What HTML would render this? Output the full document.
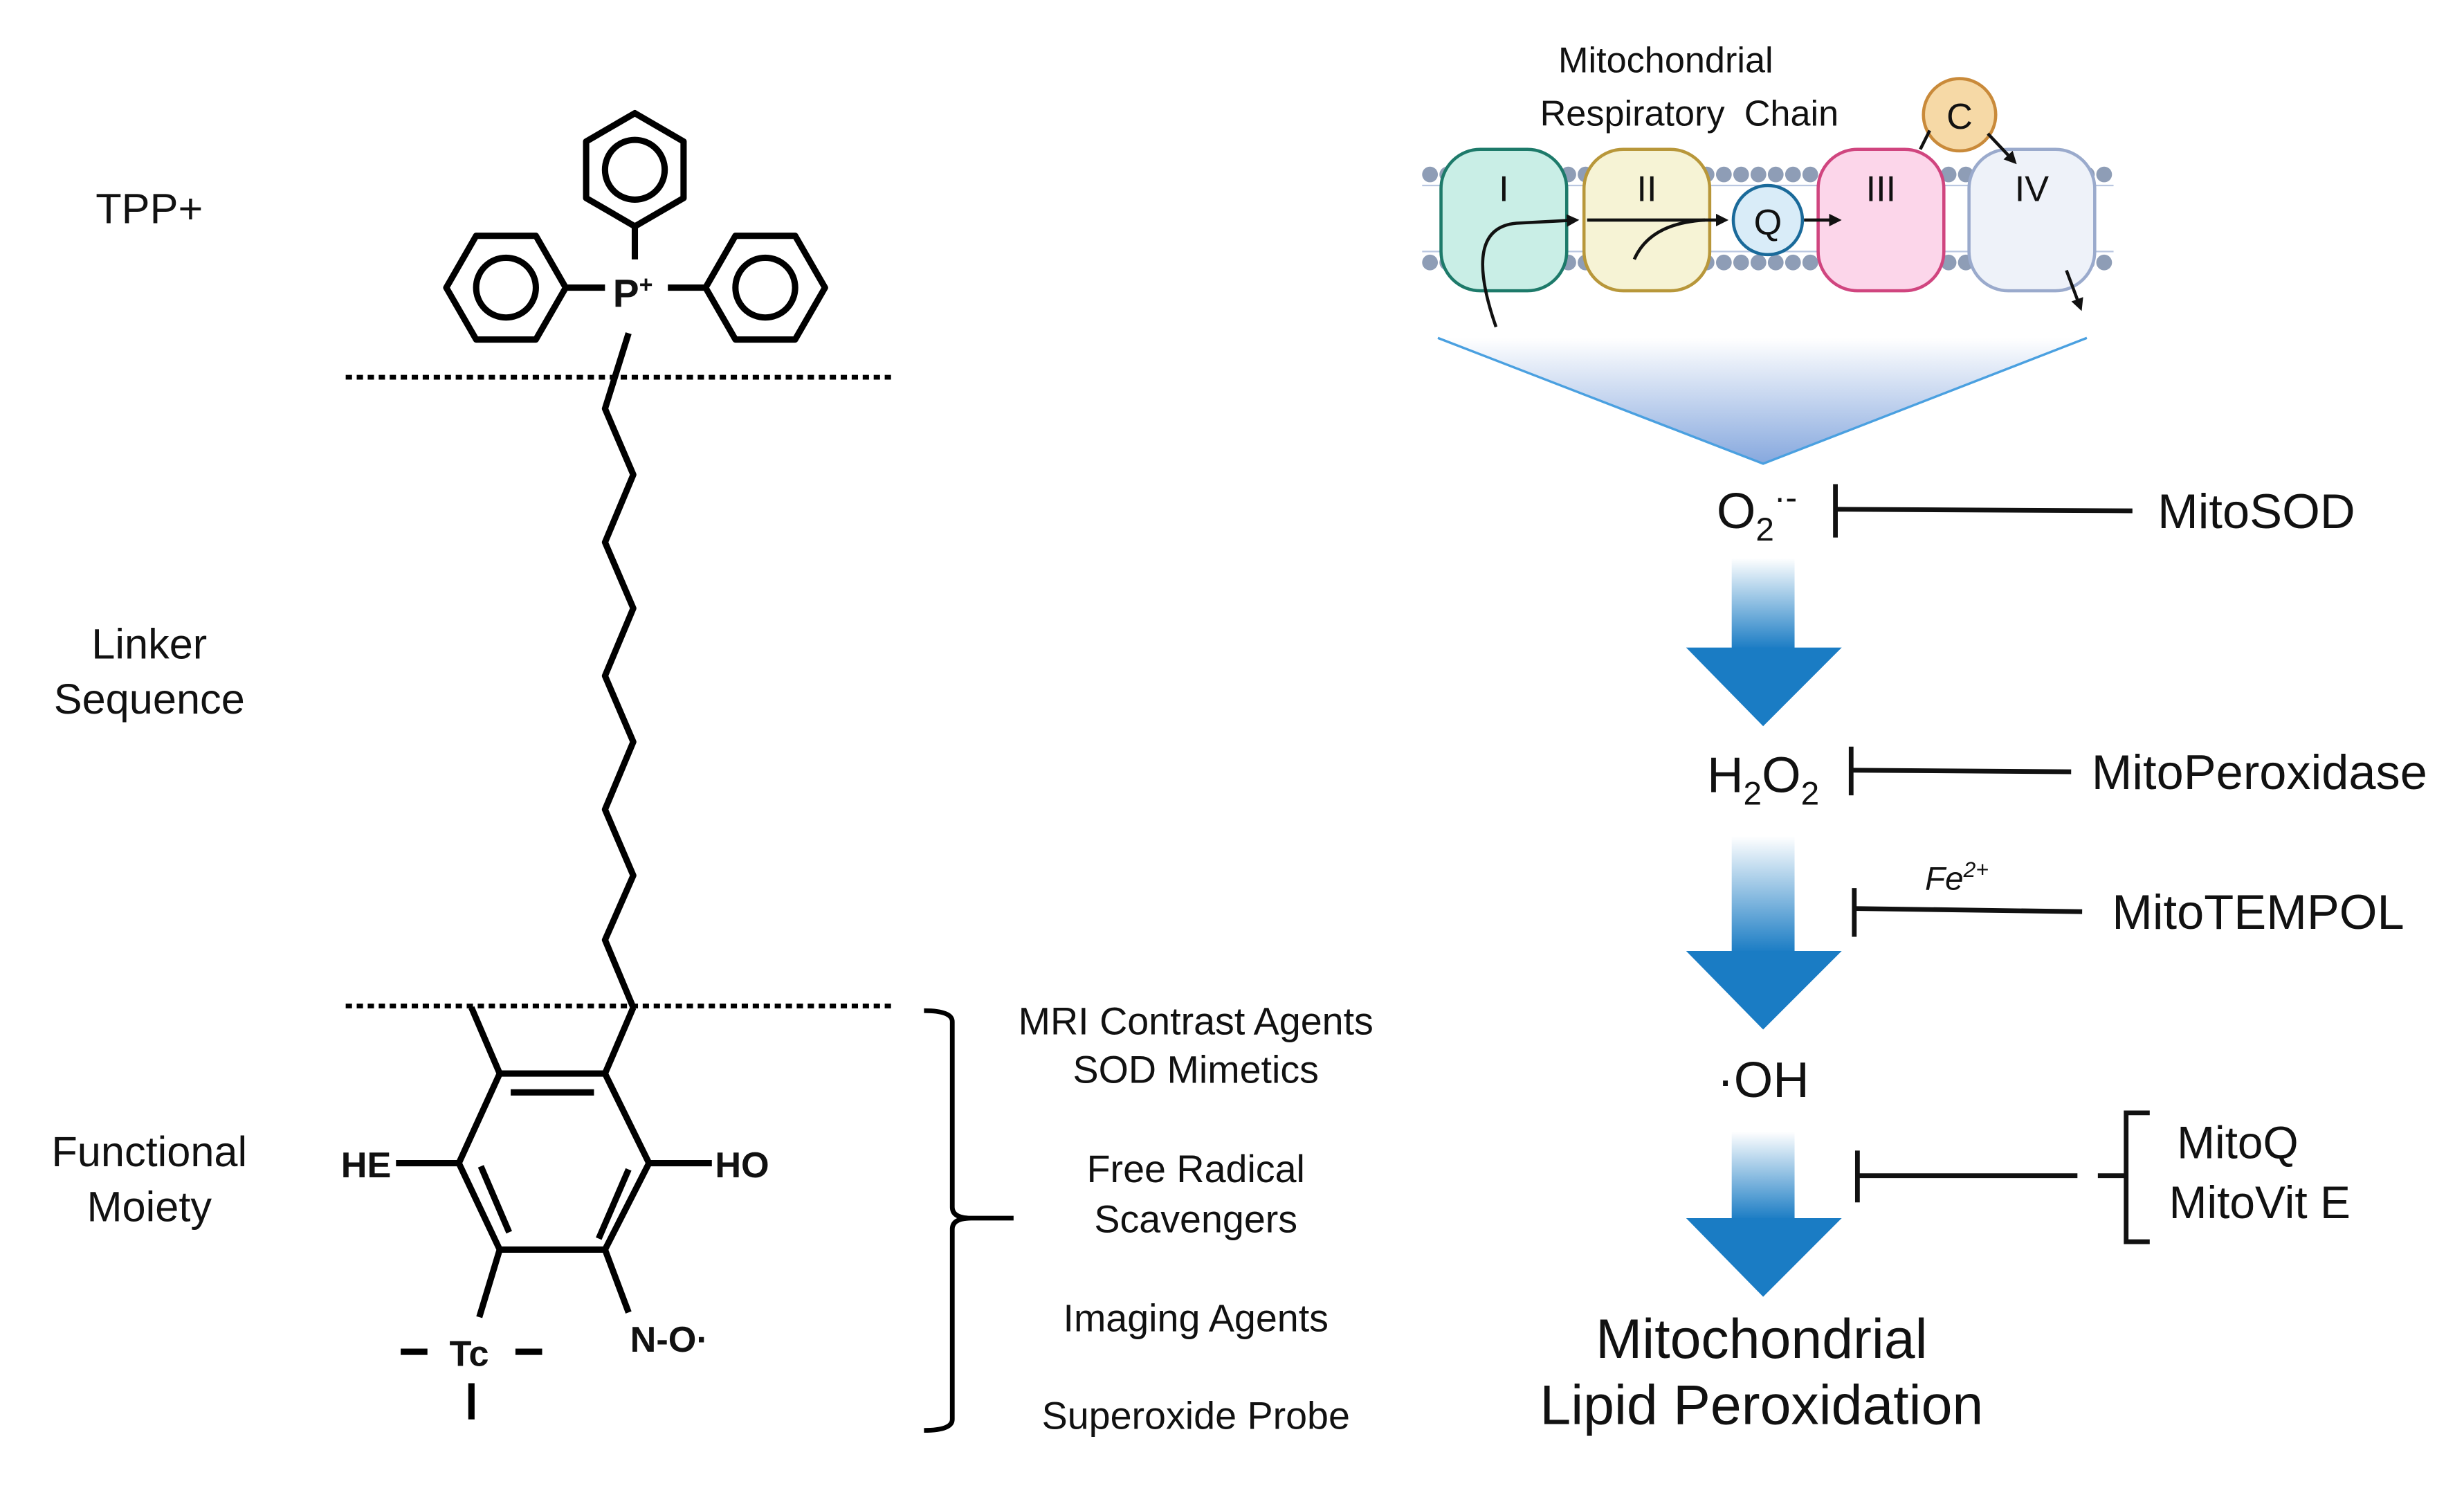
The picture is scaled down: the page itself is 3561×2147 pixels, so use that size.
<!DOCTYPE html>
<html><head><meta charset="utf-8"><style>
html,body{margin:0;padding:0;background:#fff;}
svg{display:block;}
text{font-family:"Liberation Sans",Arial,sans-serif;fill:#111;}
</style></head><body>
<svg width="3561" height="2147" viewBox="0 0 1568 945.4" preserveAspectRatio="none" xmlns="http://www.w3.org/2000/svg">
<defs>
<linearGradient id="tri" x1="0" y1="0" x2="0" y2="1"><stop offset="0" stop-color="#fff"/><stop offset="1" stop-color="#86a8de"/></linearGradient>
<linearGradient id="shaft" x1="0" y1="0" x2="0" y2="1"><stop offset="0" stop-color="#fff"/><stop offset="1" stop-color="#1a7cc4"/></linearGradient>
<marker id="ah" markerWidth="8" markerHeight="8" refX="6" refY="4" orient="auto" markerUnits="userSpaceOnUse"><path d="M0,0 L8,4 L0,8 z" fill="#111"/></marker>
</defs>

<!-- left labels -->
<g font-size="27" text-anchor="middle">
<text x="95" y="142">TPP+</text>
<text x="95" y="419">Linker</text>
<text x="95" y="454">Sequence</text>
<text x="95" y="742">Functional</text>
<text x="95" y="777">Moiety</text>
</g>

<!-- TPP -->
<g stroke="#000" stroke-width="4" fill="none" stroke-linejoin="round">
<polygon points="404,72 435,90 435,126 404,144 373,126 373,90"/>
<circle cx="404" cy="108" r="19"/>
<polygon points="284,183 303,150 341,150 360,183 341,216 303,216"/>
<circle cx="322" cy="183" r="19"/>
<polygon points="449,183 468,150 506,150 525,183 506,216 468,216"/>
<circle cx="487" cy="183" r="19"/>
<line x1="404" y1="144" x2="404" y2="165"/>
<line x1="360" y1="183" x2="385" y2="183"/>
<line x1="425" y1="183" x2="449" y2="183"/>
<polyline points="400,212 385,260 403,302 385,345 403,387 385,430 403,472 385,515 403,557 385,598 403,641"/>
<line x1="220" y1="240" x2="570" y2="240" stroke-width="3" stroke-dasharray="4,3"/>
<line x1="220" y1="640" x2="570" y2="640" stroke-width="3" stroke-dasharray="4,3"/>
<polygon points="318,683 385,683 413,740 385,795 318,795 292,740"/>
<line x1="325" y1="695" x2="378" y2="695"/>
<line x1="306" y1="742" x2="324" y2="784"/>
<line x1="400" y1="744" x2="381" y2="788"/>
<line x1="385" y1="683" x2="403" y2="641"/>
<line x1="318" y1="683" x2="300" y2="641"/>
<line x1="292" y1="740" x2="252" y2="740"/>
<line x1="413" y1="740" x2="453" y2="740"/>
<line x1="318" y1="795" x2="305" y2="838"/>
<line x1="385" y1="795" x2="400" y2="835"/>
<line x1="255" y1="860" x2="272" y2="860"/>
<line x1="328" y1="860" x2="345" y2="860"/>
<line x1="300" y1="880" x2="300" y2="903"/>
<path d="M588,643 Q606,643 606,650 L606,768 Q606,775 618,775 L645,775 M618,775 Q606,775 606,782 L606,903 Q606,910 588,910" stroke-width="3"/>
</g>
<g font-size="23" font-weight="bold">
<text x="390" y="195" font-size="25">P<tspan font-size="15" dy="-9">+</tspan></text>
<text x="217" y="749">HE</text>
<text x="455" y="749">HO</text>
<text x="401" y="860">N-O·</text>
<text x="286" y="869">Tc</text>
</g>
<g font-size="24.5" text-anchor="middle">
<text x="761" y="658">MRI Contrast Agents</text>
<text x="761" y="689">SOD Mimetics</text>
<text x="761" y="752">Free Radical</text>
<text x="761" y="784">Scavengers</text>
<text x="761" y="847">Imaging Agents</text>
<text x="761" y="909">Superoxide Probe</text>
</g>

<!-- respiratory chain -->
<g font-size="23" text-anchor="middle">
<text x="1060" y="46">Mitochondrial</text>
<text x="1075" y="80" word-spacing="6">Respiratory Chain</text>
</g>
<g stroke="#b9c6e0" stroke-width="1">
<line x1="905" y1="118" x2="1345" y2="118"/><line x1="905" y1="160" x2="1345" y2="160"/>
</g>
<g fill="#8e9db6">
<g id="row">
<circle cx="910" cy="111" r="5"/><circle cx="921" cy="111" r="5"/><circle cx="932" cy="111" r="5"/><circle cx="943" cy="111" r="5"/><circle cx="954" cy="111" r="5"/><circle cx="965" cy="111" r="5"/><circle cx="976" cy="111" r="5"/><circle cx="987" cy="111" r="5"/><circle cx="998" cy="111" r="5"/><circle cx="1009" cy="111" r="5"/><circle cx="1020" cy="111" r="5"/><circle cx="1031" cy="111" r="5"/><circle cx="1042" cy="111" r="5"/><circle cx="1053" cy="111" r="5"/><circle cx="1064" cy="111" r="5"/><circle cx="1075" cy="111" r="5"/><circle cx="1086" cy="111" r="5"/><circle cx="1097" cy="111" r="5"/><circle cx="1108" cy="111" r="5"/><circle cx="1119" cy="111" r="5"/><circle cx="1130" cy="111" r="5"/><circle cx="1141" cy="111" r="5"/><circle cx="1152" cy="111" r="5"/><circle cx="1163" cy="111" r="5"/><circle cx="1174" cy="111" r="5"/><circle cx="1185" cy="111" r="5"/><circle cx="1196" cy="111" r="5"/><circle cx="1207" cy="111" r="5"/><circle cx="1218" cy="111" r="5"/><circle cx="1229" cy="111" r="5"/><circle cx="1240" cy="111" r="5"/><circle cx="1251" cy="111" r="5"/><circle cx="1262" cy="111" r="5"/><circle cx="1273" cy="111" r="5"/><circle cx="1284" cy="111" r="5"/><circle cx="1295" cy="111" r="5"/><circle cx="1306" cy="111" r="5"/><circle cx="1317" cy="111" r="5"/><circle cx="1328" cy="111" r="5"/><circle cx="1339" cy="111" r="5"/>
</g>
<use href="#row" y="56"/>
</g>
<g stroke-width="2">
<rect x="917" y="95" width="80" height="90" rx="25" fill="#c9eee6" stroke="#1d7a6a"/>
<rect x="1008" y="95" width="80" height="90" rx="25" fill="#f6f3d5" stroke="#b8973a"/>
<circle cx="1125" cy="140" r="22" fill="#d9ecf8" stroke="#1a6a9a"/>
<rect x="1157" y="95" width="80" height="90" rx="25" fill="#fcd6ea" stroke="#d0457f"/>
<rect x="1253" y="95" width="80" height="90" rx="25" fill="#eef2f9" stroke="#9aaacc"/>
<circle cx="1247" cy="73" r="23" fill="#f6d9a6" stroke="#c98a3a"/>
</g>
<g font-size="23" text-anchor="middle">
<text x="957" y="128">I</text><text x="1048" y="128">II</text><text x="1125" y="149">Q</text><text x="1197" y="128">III</text><text x="1293" y="128">IV</text><text x="1247" y="82">C</text>
</g>
<g stroke="#111" stroke-width="2" fill="none">
<path d="M952,208 Q930,145 965,142 L1003,140" marker-end="url(#ah)"/>
<line x1="1010" y1="140" x2="1098" y2="140" marker-end="url(#ah)"/>
<path d="M1040,165 Q1050,142 1085,140"/>
<line x1="1148" y1="140" x2="1170" y2="140" marker-end="url(#ah)"/>
<line x1="1222" y1="95" x2="1228" y2="83"/>
<line x1="1265" y1="85" x2="1282" y2="103" marker-end="url(#ah)"/>
<line x1="1315" y1="172" x2="1324" y2="196" marker-end="url(#ah)"/>
</g>
<polygon points="915,215 1328,215 1122,295" fill="url(#tri)"/>
<polyline points="915,215 1122,295 1328,215" fill="none" stroke="#4aa0e0" stroke-width="1.5"/>

<!-- ROS cascade -->
<g fill="url(#shaft)">
<rect x="1102" y="355" width="40" height="58"/>
<rect x="1102" y="532" width="40" height="74"/>
<rect x="1102" y="720" width="40" height="56"/>
</g>
<g fill="#1a7cc4">
<polygon points="1073,412 1172,412 1122,462"/>
<polygon points="1073,605 1172,605 1122,655"/>
<polygon points="1073,775 1172,775 1122,825"/>
</g>
<g font-size="32" text-anchor="middle">
<text x="1118" y="336">O<tspan font-size="21" dy="8">2</tspan><tspan dy="-20" font-size="22">·-</tspan></text>
<text x="1122" y="504">H<tspan font-size="21" dy="8">2</tspan><tspan dy="-8">O</tspan><tspan font-size="21" dy="8">2</tspan></text>
<text x="1122" y="698">·OH</text>
</g>
<g stroke="#111" stroke-width="3">
<line x1="1168" y1="308" x2="1168" y2="342"/><line x1="1168" y1="324" x2="1357" y2="325"/>
<line x1="1178" y1="475" x2="1178" y2="506"/><line x1="1178" y1="490" x2="1318" y2="491"/>
<line x1="1180" y1="565" x2="1180" y2="596"/><line x1="1180" y1="578" x2="1325" y2="580"/>
<line x1="1182" y1="732" x2="1182" y2="765"/><line x1="1182" y1="748" x2="1322" y2="748"/>
<line x1="1335" y1="748" x2="1352" y2="748"/>
<polyline points="1368,708 1353,708 1353,790 1368,790" fill="none"/>
</g>
<g font-size="31">
<text x="1373" y="336">MitoSOD</text>
<text x="1331" y="502">MitoPeroxidase</text>
<text x="1344" y="591">MitoTEMPOL</text>
<text x="1424" y="737" text-anchor="middle" font-size="29">MitoQ</text>
<text x="1438" y="775" text-anchor="middle" font-size="29">MitoVit E</text>
</g>
<text x="1225" y="566" font-size="21" font-style="italic">Fe<tspan font-size="14" dy="-8">2+</tspan></text>
<g font-size="35.5" text-anchor="middle">
<text x="1121" y="864">Mitochondrial</text>
<text x="1121" y="906">Lipid Peroxidation</text>
</g>
</svg>
</body></html>
